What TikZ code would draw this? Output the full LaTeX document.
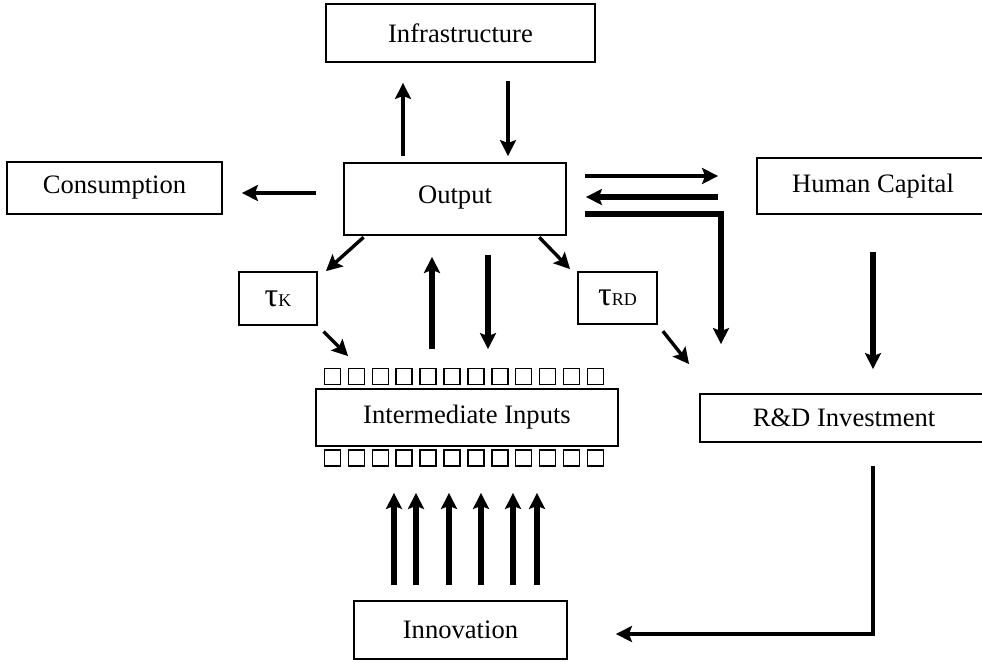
\documentclass[tikz,border=0pt]{standalone}
\usepackage{fontspec}
\setmainfont{Liberation Serif}
\usetikzlibrary{arrows.meta}

\begin{document}
\begin{tikzpicture}[x=0.5pt, y=-0.5pt, >={Stealth[length=8pt, width=8pt, inset=1.5pt]},
        font=\fontsize{13.3pt}{16pt}\selectfont,
        box/.style={draw, line width=0.9pt, inner sep=0pt, align=center},
        pin/.style={draw, line width=0.75pt, inner sep=0pt, minimum width=8pt, minimum height=8pt},
        flow/.style={->, line width=1.7pt},
        bigflow/.style={->, line width=2.6pt}]
        \useasboundingbox (0,0) rectangle (982,661);
        \clip (0,0) rectangle (982,661);

        % Nodes
        \node[box, minimum width=134.5pt, minimum height=29pt] (infra) at (460.5,33) {Infrastructure};
        \node[box, minimum width=111pt, minimum height=36pt] (output) at (455,199) {\raisebox{4.5pt}{Output}};
        \node[box, minimum width=107.5pt, minimum height=26pt] (cons) at (114.5,188) {Consumption};
        \node[box, minimum width=116pt, minimum height=28pt] (hc) at (873,186) {Human Capital};
        \node[box, minimum width=144pt, minimum height=24pt] (rd) at (844,418) {R\&D Investment};

        \node[box, minimum width=39pt, minimum height=26.5pt] (tauk) at (278,298.5) {{\fontsize{17pt}{17pt}\selectfont τ}{\fontsize{9pt}{9pt}\selectfont K}};
        \node[box, minimum width=39.5pt, minimum height=26pt] (taurd) at (617.5,298) {{\fontsize{17pt}{17pt}\selectfont τ}{\fontsize{9pt}{9pt}\selectfont RD}};

        \node[box, minimum width=151pt, minimum height=28.5pt] (inter) at (467,417.5) {Intermediate Inputs};
        \foreach \i in {0,...,11} {
            \node[pin] (top\i) at ({332.5+23.9*\i},376.5) {};
            \node[pin] (bot\i) at ({332.5+23.9*\i},458) {};
        }
        \node[box, minimum width=106.5pt, minimum height=29pt] (innov) at (460.5,630) {Innovation};

        % Edges
        \draw[flow, shorten <=3pt, shorten >=10pt] ([xshift=-26pt]output.north) -- ([xshift=-28.75pt]infra.south);
        \draw[flow, shorten <=9pt, shorten >=3pt] ([xshift=23.75pt]infra.south) -- ([xshift=26.5pt]output.north);
        \draw[flow, shorten <=13.5pt, shorten >=9.5pt] ([yshift=3pt]output.west) -- ([yshift=-2.5pt]cons.east);

        \draw[flow, shorten <=9pt, shorten >=19pt] ([yshift=11.5pt]output.east) -- ([yshift=5pt]hc.west);
        \draw[bigflow, shorten <=19pt, shorten >=9.5pt] ([yshift=-5.5pt]hc.west) -- ([yshift=1pt]output.east);
        \draw[bigflow, shorten <=9pt, shorten >=24.5pt] ([yshift=-7.5pt]output.east) -| ([xshift=-61.5pt]rd.north);

        \draw[flow, shorten <=1pt] ([xshift=11pt]output.south west) -- ([xshift=4pt]tauk.north east);
        \draw[flow, shorten <=4pt] (tauk.south east) -- ([xshift=16.5pt, yshift=16pt]inter.north west);
        \draw[flow, shorten <=1pt] ([xshift=-14.5pt]output.south east) -- ([xshift=-3.5pt, yshift=1pt]taurd.north west);
        \draw[flow, shorten <=4pt] (taurd.south east) -- ([xshift=-5pt, yshift=14.5pt]rd.north west);

        \draw[bigflow, shorten <=19.5pt, shorten >=10.5pt] ([xshift=-17.5pt]inter.north) -- ([xshift=-11.5pt]output.south);
        \draw[bigflow, shorten <=9.5pt, shorten >=19.5pt] ([xshift=16.5pt]output.south) -- ([xshift=10.5pt]inter.north);

        \draw[bigflow, shorten <=18.5pt, shorten >=12pt] (hc.south) -- ([xshift=14.5pt]rd.north);
        \draw[flow, shorten <=11.5pt, shorten >=24pt] ([xshift=14.5pt]rd.south) |- ([yshift=-2pt]innov.east);

        \foreach \d in {-33.25,-22.25,-5.75,10.25,26.25,38.25} {
            \coordinate (feed) at ([xshift=\d pt]innov.north);
            \draw[bigflow, shorten <=7.5pt, shorten >=23pt] (feed) -- (feed |- inter.south);
        }
    \end{tikzpicture}
\end{document}
